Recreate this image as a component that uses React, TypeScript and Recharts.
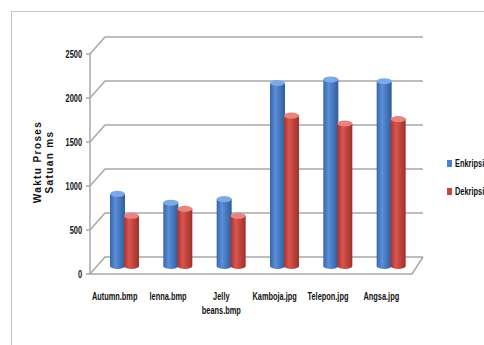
import { BarChart, Bar, XAxis, YAxis, CartesianGrid, Legend } from 'recharts'

const categories = ['Autumn.bmp', 'lenna.bmp', 'Jelly beans.bmp', 'Kamboja.jpg', 'Telepon.jpg', 'Angsa.jpg']
const enkripsi = [820, 720, 760, 2080, 2120, 2100]
const dekripsi = [570, 650, 570, 1710, 1620, 1670]
const yTicks = [0, 500, 1000, 1500, 2000, 2500]

const data = categories.map((name, i) => ({ name, Enkripsi: enkripsi[i], Dekripsi: dekripsi[i] }))

const FONT = "'Liberation Sans', Arial, sans-serif"
const GRID = '#a8a8a8'
// pseudo 3d depth: front is left/down of the plot, back wall right/up
const FRONT_DX = -8
const FRONT_DY = 8
const BACK_DX = 7
const BACK_DY = -9
const PLOT_BOTTOM = 266
const PLOT_TOP = 46
const NARROW = 0.74

const Cylinder = (props: any) => {
  const { x, y, width, height, fill } = props
  if (!height || height <= 0) return null
  const id = fill === 'blue' ? 'gBlue' : 'gRed'
  const top = fill === 'blue' ? '#7fa9e6' : '#e88480'
  const rx = width / 2
  const ry = 3
  return (
    <g>
      <rect x={x} y={y} width={width} height={height} fill={`url(#${id})`} />
      <ellipse cx={x + rx} cy={y + height} rx={rx} ry={ry} fill={`url(#${id})`} />
      <ellipse cx={x + rx} cy={y} rx={rx} ry={ry} fill={top} />
    </g>
  )
}

const GridLine = (props: any) => {
  const { x1, x2, y1 } = props
  const isFloor = Math.abs(y1 - PLOT_BOTTOM) < 1
  const fx = x1 + FRONT_DX
  const bx1 = x1 + BACK_DX
  const bx2 = x2 + 5
  const by = y1 + BACK_DY
  return (
    <g key={props.key}>
      <polyline
        points={`${fx},${y1 + FRONT_DY} ${bx1},${by} ${bx2},${by}`}
        fill="none"
        stroke={GRID}
        strokeWidth={1.5}
      />
      {isFloor && (
        <g>
          <polyline
            points={`${fx},${y1 + FRONT_DY} ${x2 - 6},${y1 + FRONT_DY} ${bx2},${by}`}
            fill="none"
            stroke={GRID}
            strokeWidth={1.5}
          />
          <line
            x1={fx}
            y1={y1 + FRONT_DY}
            x2={fx}
            y2={PLOT_TOP + FRONT_DY}
            stroke={GRID}
            strokeWidth={1.5}
          />
        </g>
      )}
    </g>
  )
}

const YTick = (props: any) => {
  const { y, payload } = props
  const fx = 98 + FRONT_DX
  const fy = y + FRONT_DY
  return (
    <g>
      <line x1={fx - 4} y1={fy} x2={fx} y2={fy} stroke={GRID} strokeWidth={1.5} />
      <g transform={`translate(${fx - 8},${fy + 3.5}) scale(${NARROW},1)`}>
        <text x={0} y={0} textAnchor="end" fontFamily={FONT} fontWeight="bold" fontSize={10} fill="#111">
          {payload.value}
        </text>
      </g>
    </g>
  )
}

const XTick = (props: any) => {
  const { x, payload } = props
  const label: string = payload.value
  const lines = label === 'Jelly beans.bmp' ? ['Jelly', 'beans.bmp'] : [label]
  return (
    <g transform={`translate(${x - 10},300) scale(${NARROW},1)`}>
      <text x={0} y={0} textAnchor="middle" fontFamily={FONT} fontWeight="bold" fontSize={10} fill="#111">
        {lines.map((l, i) => (
          <tspan key={l} x={0} dy={i === 0 ? 0 : 14}>
            {l}
          </tspan>
        ))}
      </text>
    </g>
  )
}

const LegendBox = () => (
  <div style={{ fontFamily: FONT, fontWeight: 'bold', fontSize: 10, color: '#111', whiteSpace: 'nowrap' }}>
    {[
      { name: 'Enkripsi', color: '#4a7fd0' },
      { name: 'Dekripsi', color: '#c9463f' },
    ].map((item, i) => (
      <div key={item.name} style={{ display: 'flex', alignItems: 'center', marginTop: i === 0 ? 0 : 17 }}>
        <span style={{ display: 'inline-block', width: 5, height: 7, background: item.color, marginRight: 3 }} />
        <span style={{ display: 'inline-block', transform: `scaleX(${NARROW})`, transformOrigin: 'left center' }}>
          {item.name}
        </span>
      </div>
    ))}
  </div>
)

export default function App() {
  return (
    <div style={{ position: 'absolute', left: 0, top: 0, width: 484, height: 345, background: '#fff', overflow: 'hidden' }}>
      <div
        style={{
          position: 'absolute',
          left: 11,
          top: 11,
          width: 500,
          height: 360,
          border: '1.5px solid #c4c4c4',
        }}
      />
      <div
        style={{
          position: 'absolute',
          left: 44,
          top: 162,
          transform: 'translate(-50%, -50%) rotate(-90deg)',
          fontFamily: FONT,
          fontWeight: 'bold',
          fontSize: 10,
          letterSpacing: 1.4,
          lineHeight: '12px',
          textAlign: 'center',
          whiteSpace: 'nowrap',
          color: '#111',
        }}
      >
        Waktu Proses
        <br />
        Satuan ms
      </div>
      <BarChart
        width={484}
        height={345}
        data={data}
        margin={{ top: PLOT_TOP, right: 6, bottom: 29, left: 20 }}
        barSize={15}
        barGap={-1}
        style={{ position: 'absolute', left: 0, top: 0 }}
      >
        <defs>
          <linearGradient id="gBlue" x1="0" y1="0" x2="1" y2="0">
            <stop offset="0%" stopColor="#3565a8" />
            <stop offset="35%" stopColor="#5b8fda" />
            <stop offset="100%" stopColor="#2f5c9c" />
          </linearGradient>
          <linearGradient id="gRed" x1="0" y1="0" x2="1" y2="0">
            <stop offset="0%" stopColor="#a8332f" />
            <stop offset="35%" stopColor="#d9564f" />
            <stop offset="100%" stopColor="#9e2f2b" />
          </linearGradient>
        </defs>
        <CartesianGrid vertical={false} horizontal={GridLine} />
        <XAxis dataKey="name" axisLine={false} tickLine={false} height={50} tick={XTick} interval={0} />
        <YAxis
          width={78}
          domain={[0, 2500]}
          ticks={yTicks}
          axisLine={false}
          tickLine={false}
          tick={YTick}
        />
        <Legend
          layout="vertical"
          align="right"
          verticalAlign="top"
          content={LegendBox}
          wrapperStyle={{ position: 'absolute', left: 447, top: 158, width: 60 }}
        />
        <Bar dataKey="Enkripsi" fill="blue" shape={Cylinder} isAnimationActive={false} />
        <Bar dataKey="Dekripsi" fill="red" shape={Cylinder} isAnimationActive={false} />
      </BarChart>
    </div>
  )
}
